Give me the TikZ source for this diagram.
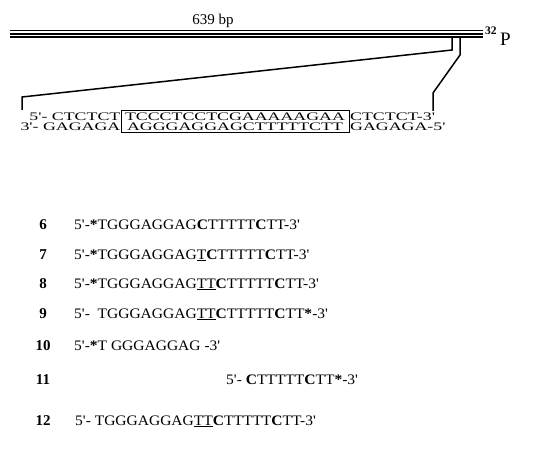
\documentclass[tikz,border=0pt]{standalone}
\usepackage{fontspec}
\setmainfont{Liberation Serif}
\newfontfamily\dupfont[FakeStretch=1.55]{Liberation Serif}
\newfontfamily\rowfont[FakeStretch=1.07]{Liberation Serif}
\begin{document}
\begin{tikzpicture}[x=1pt,y=-1pt,
  wire/.style={line width=1.5pt},
  barline/.style={line width=1.8pt},
  dup/.style={inner sep=0pt, font=\fontsize{11.5}{11.5}\selectfont\dupfont},
  seqrow/.style={anchor=base west, inner sep=0pt, font=\fontsize{14.5}{16}\selectfont\rowfont},
  rowlab/.style={anchor=base, inner sep=0pt, font=\fontsize{15}{16}\selectfont\bfseries}]
\useasboundingbox (0,0) rectangle (543,449);
% bar
\coordinate (bl1) at (10,30.5); \coordinate (br1) at (483,30.5);
\coordinate (bl2) at (10,33.8); \coordinate (br2) at (483,33.8);
\coordinate (bl3) at (10,37.1); \coordinate (br3) at (483,37.1);
\draw[barline] (bl1) -- (br1);
\draw[barline] (bl2) -- (br2);
\draw[barline] (bl3) -- (br3);
\node[inner sep=0pt, anchor=base, font=\fontsize{15}{16}\selectfont] (bp) at (213,25) {639 bp};
\node[inner sep=0pt, anchor=base west, font=\fontsize{11.5}{11}\selectfont\bfseries] (p32) at (485,35) {32};
\node[inner sep=0pt, anchor=base west, font=\fontsize{19}{19}\selectfont] (pP) at (500,46) {P};
% zoom lines
\coordinate (t1) at (452,37.5); \coordinate (t1b) at (452,50);
\coordinate (c1) at (22,97); \coordinate (c1b) at (22,110);
\coordinate (t2) at (460,37.5); \coordinate (t2b) at (460,55);
\coordinate (c2) at (433,93); \coordinate (c2b) at (433,111);
\draw[wire] (t1) -- (t1b) -- (c1) -- (c1b);
\draw[wire] (t2) -- (t2b) -- (c2) -- (c2b);
% duplex
\draw[line width=1pt] (121,111) rectangle (349,133);
\node[dup, anchor=base] (topmid) at (235,120.5) {TCCCTCCTCGAAAAAGAA};
\node[dup, anchor=base] (botmid) at (235,131) {AGGGAGGAGCTTTTTCTT};
\node[dup, anchor=base east] (topl) at (120.5,120.5) {5'- CTCTCT};
\node[dup, anchor=base east] (botl) at (120.5,131) {3'- GAGAGA};
\node[dup, anchor=base west] (topr) at (350,120.5) {CTCTCT-3'};
\node[dup, anchor=base west] (botr) at (350,131) {GAGAGA-5'};
% rows
\node[rowlab] (l6) at (43,229) {6};
\node[rowlab] (l7) at (43,259) {7};
\node[rowlab] (l8) at (43,288) {8};
\node[rowlab] (l9) at (43,318) {9};
\node[rowlab] (l10) at (43,350) {10};
\node[rowlab] (l11) at (43,384) {11};
\node[rowlab] (l12) at (43,425) {12};
\node[seqrow] (s6) at (74,229) {5'-\textbf{*}TGGGAGGAG\textbf{C}TTTTT\textbf{C}TT-3'};
\node[seqrow] (s7) at (74,259) {5'-\textbf{*}TGGGAGGAG\underline{T}\textbf{C}TTTTT\textbf{C}TT-3'};
\node[seqrow] (s8) at (74,288) {5'-\textbf{*}TGGGAGGAG\underline{TT}\textbf{C}TTTTT\textbf{C}TT-3'};
\node[seqrow] (s9) at (74,318) {5'-\ \ TGGGAGGAG\underline{TT}\textbf{C}TTTTT\textbf{C}TT\textbf{*}-3'};
\node[seqrow] (s10) at (74,350) {5'-\textbf{*}T GGGAGGAG -3'};
\node[seqrow] (s11) at (226,384) {5'- \textbf{C}TTTTT\textbf{C}TT\textbf{*}-3'};
\node[seqrow] (s12) at (75,425) {5'- TGGGAGGAG\underline{TT}\textbf{C}TTTTT\textbf{C}TT-3'};
\end{tikzpicture}
\end{document}
